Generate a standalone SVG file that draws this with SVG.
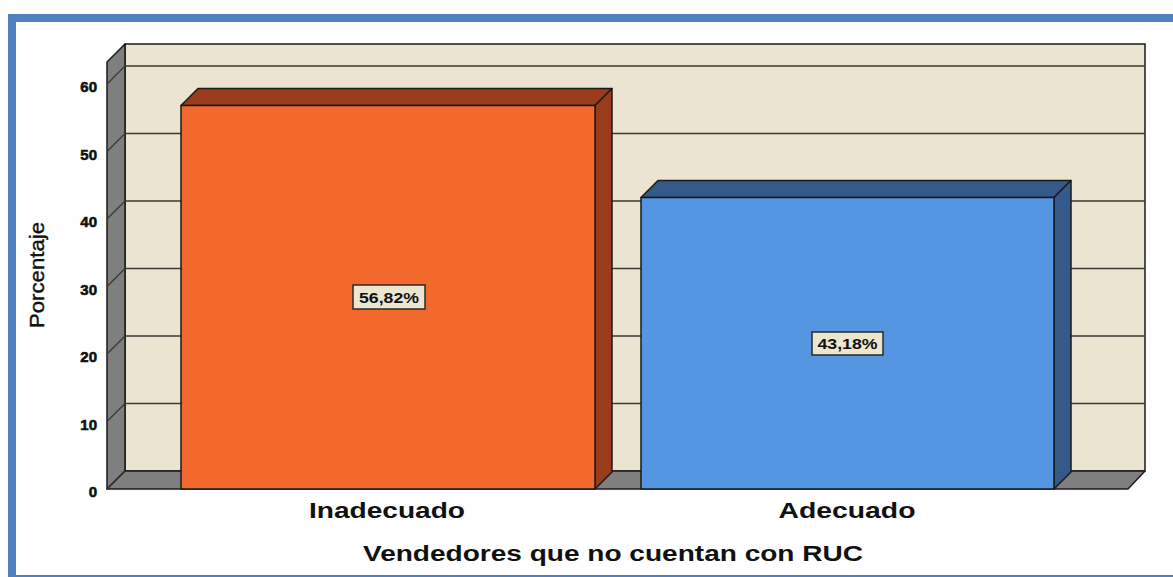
<svg xmlns="http://www.w3.org/2000/svg" width="1173" height="577" viewBox="0 0 1173 577">
<style>
.wall{fill:#ebe4d0;stroke:#1a1a1a;stroke-width:1.5}
.grey{fill:#7f7f7f;stroke:#1a1a1a;stroke-width:1.5;stroke-linejoin:round}
.grid{stroke:#3a3a32;stroke-width:1.3;fill:none}
.tick{font-family:"Liberation Sans",Arial,sans-serif;font-weight:bold;font-size:15px;fill:#111;text-anchor:end;stroke:#111;stroke-width:0.6}
.cat{font-family:"Liberation Sans",Arial,sans-serif;font-weight:bold;font-size:22px;fill:#111;text-anchor:middle}
.lbox{fill:#ede6cf;stroke:#2a2a2a;stroke-width:1.5}
.ltxt{font-family:"Liberation Sans",Arial,sans-serif;font-weight:bold;font-size:14px;fill:#111;text-anchor:middle}
.edge{stroke:#1a1a1a;stroke-width:1.5;stroke-linejoin:round}
</style>
<rect x="0" y="0" width="1173" height="577" fill="#ffffff"/>
<rect x="12" y="18" width="1170" height="561" fill="#ffffff" stroke="#4f81bd" stroke-width="8"/>
<g id="axes">
<polygon class="wall" points="125,44 1145,44 1145,471 125,471"/>
<polygon class="grey" points="107,62 125,44 125,471 107,489"/>
<polygon class="grey" points="107,489 125,471 1145,471 1128,489"/>
<g class="grid">
<line x1="125" y1="403.5" x2="1145" y2="403.5"/>
<line x1="125" y1="336" x2="1145" y2="336"/>
<line x1="125" y1="268.5" x2="1145" y2="268.5"/>
<line x1="125" y1="201" x2="1145" y2="201"/>
<line x1="125" y1="133.5" x2="1145" y2="133.5"/>
<line x1="125" y1="66" x2="1145" y2="66"/>
<line x1="107" y1="489" x2="125" y2="471"/>
<line x1="107" y1="421.5" x2="125" y2="403.5"/>
<line x1="107" y1="354" x2="125" y2="336"/>
<line x1="107" y1="286.5" x2="125" y2="268.5"/>
<line x1="107" y1="219" x2="125" y2="201"/>
<line x1="107" y1="151.5" x2="125" y2="133.5"/>
<line x1="107" y1="84" x2="125" y2="66"/>
</g>
<text class="tick" x="97" y="497">0</text>
<text class="tick" x="97" y="429.5">10</text>
<text class="tick" x="97" y="362">20</text>
<text class="tick" x="97" y="294.5">30</text>
<text class="tick" x="97" y="227">40</text>
<text class="tick" x="97" y="159.5">50</text>
<text class="tick" x="97" y="92">60</text>
<text font-family="'Liberation Sans',Arial,sans-serif" font-size="21" fill="#111" stroke="#111" stroke-width="0.4" text-anchor="middle" transform="translate(44,275) rotate(-90)" textLength="106" lengthAdjust="spacingAndGlyphs">Porcentaje</text>
<text class="cat" x="387" y="518" textLength="156" lengthAdjust="spacingAndGlyphs">Inadecuado</text>
<text class="cat" x="847" y="518" textLength="137" lengthAdjust="spacingAndGlyphs">Adecuado</text>
<text class="cat" x="613" y="561" textLength="500" lengthAdjust="spacingAndGlyphs">Vendedores que no cuentan con RUC</text>
</g>
<g id="bar-inadecuado">
<polygon class="edge" fill="#9a3c1c" points="181,105.5 198,88.5 612,88.5 595,105.5"/>
<polygon class="edge" fill="#9a3c1c" points="595,105.5 612,88.5 612,472 595,489"/>
<rect class="edge" fill="#f3682d" x="181" y="105.5" width="414" height="383.5"/>
<rect class="lbox" x="353" y="285" width="72" height="24"/>
<text class="ltxt" x="389" y="302.5" textLength="60" lengthAdjust="spacingAndGlyphs">56,82%</text>
</g>
<g id="bar-adecuado">
<polygon class="edge" fill="#34598a" points="641,197.5 658,180.5 1071,180.5 1054,197.5"/>
<polygon class="edge" fill="#34598a" points="1054,197.5 1071,180.5 1071,472 1054,489"/>
<rect class="edge" fill="#5596e3" x="641" y="197.5" width="413" height="291.5"/>
<rect class="lbox" x="812" y="332" width="71" height="23"/>
<text class="ltxt" x="847.5" y="349" textLength="60" lengthAdjust="spacingAndGlyphs">43,18%</text>
</g>
<g id="connectors"></g>
</svg>
